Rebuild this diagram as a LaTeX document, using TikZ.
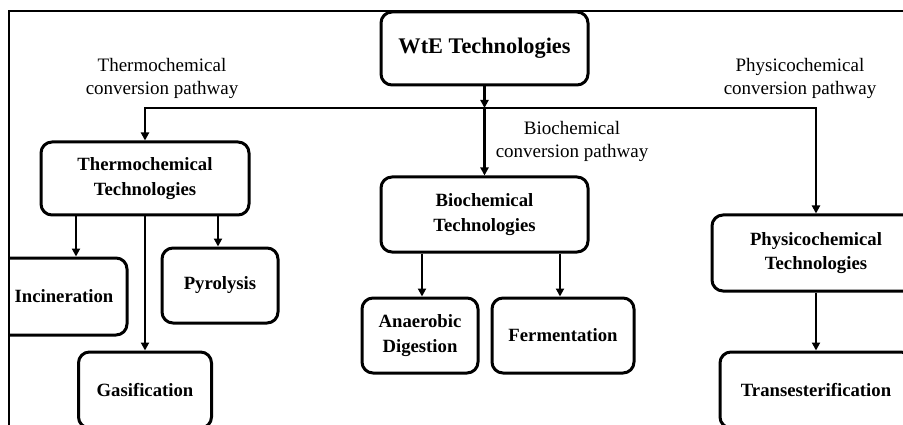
\documentclass[tikz,border=0pt]{standalone}
\usepackage{fontspec}
\setmainfont{Liberation Serif}
\usetikzlibrary{arrows.meta}
\tikzset{
  techbox/.style={draw, line width=3pt, rounded corners=11pt, inner sep=0pt, align=center,
    font=\bfseries\fontsize{18.7}{24.5}\selectfont},
  pathlabel/.style={align=center, font=\fontsize{19}{23}\selectfont},
  arr/.style={line width=2.8pt, -{Triangle[length=8pt,width=8pt]}},
}
\begin{document}
\begin{tikzpicture}[x=1pt,y=-1pt]
\useasboundingbox (0,0) rectangle (903,425);
\clip (8,0) rectangle (903,425);
\draw[line width=1.2pt] (903,11) -- (9,11) -- (9,425);
% top
\node[techbox, minimum width=207pt, minimum height=73pt, font=\bfseries\fontsize{22.3}{26}\selectfont] (wte) at (484.5,48.5) {WtE Technologies};
\coordinate (hub) at (484.5,108);
% second level
\node[techbox, minimum width=208pt, minimum height=73pt] (thermo) at (145,178.5) {Thermochemical\\Technologies};
\node[techbox, minimum width=207pt, minimum height=75pt] (bio) at (484.5,214.5) {Biochemical\\Technologies};
\node[techbox, minimum width=208pt, minimum height=76pt] (physico) at (816,253) {Physicochemical\\Technologies};
% third level
\node[techbox, minimum width=137pt, minimum height=77pt] (incin) at (58.5,296.5) {\hspace*{11pt}Incineration};
\node[techbox, minimum width=116pt, minimum height=75pt] (pyro) at (220,285.5) {Pyrolysis};
\node[techbox, minimum width=133pt, minimum height=76pt] (gas) at (145,390) {Gasification};
\node[techbox, minimum width=116pt, minimum height=75pt] (anaer) at (420,335.5) {Anaerobic\\Digestion};
\node[techbox, minimum width=142pt, minimum height=75pt] (ferm) at (563,335.5) {Fermentation};
\node[techbox, minimum width=192pt, minimum height=76pt] (trans) at (816,390) {Transesterification};
% pathway labels
\node[pathlabel] (thermolbl) at (162,78) {Thermochemical\\conversion pathway};
\node[pathlabel] (biolbl) at (572,141) {Biochemical\\conversion pathway};
\node[pathlabel] (physlbl) at (800,78) {Physicochemical\\conversion pathway};
% connectors
\draw[arr] (wte) -- (hub);
\draw[arr] (hub) -| (thermo);
\draw[arr] (hub) -- (bio);
\draw[arr] (hub) -| (physico);
\draw[arr] ([xshift=-69pt]thermo.south) -- ([xshift=17.5pt]incin.north);
\draw[arr] (thermo) -- (gas);
\draw[arr] ([xshift=73pt]thermo.south) -- ([xshift=-2pt]pyro.north);
\draw[arr] ([xshift=-62.5pt]bio.south) -- ([xshift=2pt]anaer.north);
\draw[arr] ([xshift=75.5pt]bio.south) -- ([xshift=-3pt]ferm.north);
\draw[arr] (physico) -- (trans);
\end{tikzpicture}
\end{document}
